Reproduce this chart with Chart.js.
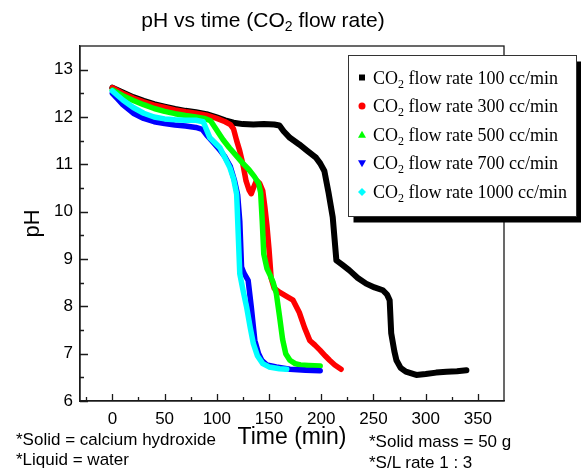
<!DOCTYPE html>
<html>
<head>
<meta charset="utf-8">
<script src="https://cdn.jsdelivr.net/npm/chart.js@4"></script>
<style>
  html, body { margin: 0; padding: 0; background: #fff; }
  #wrap { position: relative; width: 581px; height: 474px; }
  .note { position: absolute; font-family: "Liberation Sans", Arial, sans-serif; color: #000; }
  #title { left: 0; top: 8px; width: 526px; text-align: center; font-size: 21px; line-height: 24px; }
  #title sub { font-size: 14px; vertical-align: -4px; line-height: 0; }
  .foot { font-size: 17px; line-height: 20px; white-space: nowrap; }
</style>
</head>
<body>
<div id="wrap">
  <canvas id="phChart"></canvas>
  <div class="note" id="title">pH vs time (CO<sub>2</sub> flow rate)</div>
  <div class="note foot" style="left:16px; top:430px;">*Solid = calcium hydroxide<br>*Liquid = water</div>
  <div class="note foot" style="left:369px; top:431px; line-height:21px;">*Solid mass = 50 g<br>*S/L rate 1 : 3</div>
</div>
<script>
// ---- data ----
const flowRates = [100, 300, 500, 700, 1000];
const lineColors = ["#000000", "#ff0000", "#00ff00", "#0000ff", "#00ffff"];
const lineWidths = [6, 5.5, 5.5, 5.5, 5.5];
const markerStyles = ["rect", "circle", "triangle", "triangleDown", "diamond"];

const time100 = [0, 10, 20, 30, 40, 50, 60, 70, 80, 90, 100, 108, 116, 125, 135, 145, 155, 160, 164, 170, 179, 187, 195, 199, 203, 207, 211, 214.5, 220, 227, 235, 243, 251, 259, 263, 265.5, 267, 270, 272, 276, 281, 291, 300, 310, 320, 330, 339];
const ph100 = [12.62, 12.52, 12.42, 12.34, 12.27, 12.22, 12.17, 12.13, 12.1, 12.06, 11.99, 11.93, 11.88, 11.85, 11.84, 11.85, 11.84, 11.82, 11.7, 11.56, 11.42, 11.28, 11.14, 11.02, 10.86, 10.4, 9.88, 8.97, 8.88, 8.76, 8.6, 8.48, 8.4, 8.34, 8.25, 8.13, 7.43, 7.05, 6.86, 6.7, 6.62, 6.55, 6.57, 6.6, 6.62, 6.63, 6.65];

const time300 = [0, 10, 20, 30, 40, 50, 60, 70, 80, 90, 100, 108, 113, 116, 119, 122, 125, 128, 131, 133, 135, 138, 141, 144, 146, 148, 150, 152, 155, 160, 166, 173, 179, 184, 189, 194, 199, 204, 208, 213, 219];
const ph300 = [12.62, 12.5, 12.4, 12.32, 12.25, 12.2, 12.15, 12.11, 12.08, 12.04, 11.97, 11.9, 11.84, 11.75, 11.5, 11.28, 11.0, 10.65, 10.45, 10.38, 10.5, 10.66, 10.6, 10.44, 10.1, 9.7, 9.2, 8.6, 8.38, 8.3, 8.22, 8.13, 7.87, 7.55, 7.28, 7.18, 7.07, 6.95, 6.86, 6.76, 6.67];

const time500 = [0, 10, 20, 30, 40, 50, 60, 70, 80, 88, 94, 100, 106, 112, 118, 125, 131, 136, 140, 142, 143.5, 145, 148, 151, 154, 157, 160, 163, 166, 170, 175, 180, 188, 199];
const ph500 = [12.57, 12.45, 12.35, 12.26, 12.18, 12.12, 12.07, 12.03, 12.0, 11.97, 11.92, 11.72, 11.52, 11.35, 11.2, 11.02, 10.88, 10.74, 10.6, 10.4, 9.8, 9.1, 8.8, 8.66, 8.5, 8.27, 7.8, 7.3, 7.0, 6.86, 6.79, 6.76, 6.75, 6.74];

const time700 = [0, 5, 10, 20, 30, 40, 50, 60, 70, 80, 86, 91, 97, 103, 108, 113, 117, 120, 122, 123.7, 126, 130, 133, 136.4, 140, 143, 148, 157, 170, 185, 199];
const ph700 = [12.5, 12.38, 12.26, 12.08, 11.97, 11.9, 11.86, 11.83, 11.81, 11.78, 11.74, 11.6, 11.45, 11.3, 11.15, 10.95, 10.65, 10.35, 9.8, 8.83, 8.7, 8.55, 7.99, 7.28, 7.0, 6.86, 6.76, 6.72, 6.67, 6.65, 6.64];

const time1000 = [0, 10, 20, 30, 40, 50, 60, 70, 80, 87, 93.4, 103, 112.5, 116, 119, 120.5, 122, 125, 128.5, 132, 135, 139, 144, 150, 160, 167];
const ph1000 = [12.55, 12.36, 12.2, 12.08, 12.0, 11.96, 11.94, 11.93, 11.93, 11.9, 11.56, 11.35, 10.93, 10.7, 10.37, 9.53, 8.69, 8.35, 7.99, 7.55, 7.21, 6.95, 6.79, 6.72, 6.68, 6.67];

const xTicks = [0, 50, 100, 150, 200, 250, 300, 350];
const yTicks = [6, 7, 8, 9, 10, 11, 12, 13];

const seriesTimes = [time100, time300, time500, time700, time1000];
const seriesPh = [ph100, ph300, ph500, ph700, ph1000];

const SANS = '"Liberation Sans", Arial, sans-serif';
const SERIF = '"Liberation Serif", "Times New Roman", serif';
const AXIS_COLOR = "#1a1a1a";

// inward major/minor ticks plus the top/right frame
const frameTicks = {
  id: "frameTicks",
  afterDatasetsDraw(chart) {
    const { ctx, chartArea: a, scales: { x, y } } = chart;
    ctx.save();
    ctx.strokeStyle = AXIS_COLOR;
    ctx.lineWidth = 1.3;
    ctx.strokeRect(a.left, a.top, a.right - a.left, a.bottom - a.top);
    ctx.beginPath();
    xTicks.forEach((v) => {
      const px = Math.round(x.getPixelForValue(v)) + 0.5;
      ctx.moveTo(px, a.bottom); ctx.lineTo(px, a.bottom - 7);
      const mx = Math.round(x.getPixelForValue(v - 25)) + 0.5;
      ctx.moveTo(mx, a.bottom); ctx.lineTo(mx, a.bottom - 4);
    });
    const last = Math.round(x.getPixelForValue(xTicks[xTicks.length - 1] + 25)) + 0.5;
    if (last < a.right - 1) { ctx.moveTo(last, a.bottom); ctx.lineTo(last, a.bottom - 4); }
    yTicks.forEach((v) => {
      const py = Math.round(y.getPixelForValue(v)) + 0.5;
      ctx.moveTo(a.left, py); ctx.lineTo(a.left + 8, py);
      const my = Math.round(y.getPixelForValue(v + 0.5)) + 0.5;
      if (my > a.top + 1) { ctx.moveTo(a.left, my); ctx.lineTo(a.left + 4, my); }
    });
    ctx.stroke();
    ctx.restore();
  },
};

function drawMarker(ctx, style, cx, cy, color) {
  ctx.fillStyle = color;
  ctx.beginPath();
  if (style === "rect") {
    ctx.rect(cx - 3, cy - 3, 6, 6);
  } else if (style === "circle") {
    ctx.arc(cx, cy, 3.5, 0, Math.PI * 2);
  } else if (style === "triangle") {
    ctx.moveTo(cx, cy - 4); ctx.lineTo(cx + 4, cy + 3); ctx.lineTo(cx - 4, cy + 3);
  } else if (style === "triangleDown") {
    ctx.moveTo(cx - 4, cy - 3); ctx.lineTo(cx + 4, cy - 3); ctx.lineTo(cx, cy + 4);
  } else {
    ctx.moveTo(cx, cy - 4); ctx.lineTo(cx + 4, cy); ctx.lineTo(cx, cy + 4); ctx.lineTo(cx - 4, cy);
  }
  ctx.closePath();
  ctx.fill();
}

// boxed legend with drop shadow, subscripted CO2
const boxLegend = {
  id: "boxLegend",
  afterDraw(chart) {
    const ctx = chart.ctx;
    const bx = 348.5, by = 55.5, bw = 228, bh = 161;
    ctx.save();
    ctx.fillStyle = "#000";
    ctx.fillRect(bx + 5, by + 6, bw, bh);
    ctx.fillStyle = "#fff";
    ctx.fillRect(bx, by, bw, bh);
    ctx.strokeStyle = "#333";
    ctx.lineWidth = 1;
    ctx.strokeRect(bx, by, bw, bh);
    ctx.textBaseline = "alphabetic";
    flowRates.forEach((rate, i) => {
      const base = 83.5 + i * 28.6;
      drawMarker(ctx, markerStyles[i], 362, base - 6, lineColors[i]);
      ctx.fillStyle = "#000";
      let tx = 373;
      ctx.font = "18px " + SERIF;
      ctx.fillText("CO", tx, base);
      tx += ctx.measureText("CO").width;
      ctx.font = "12px " + SERIF;
      ctx.fillText("2", tx, base + 4);
      tx += ctx.measureText("2").width;
      ctx.font = "18px " + SERIF;
      ctx.fillText(" flow rate " + rate + " cc/min", tx, base);
    });
    ctx.restore();
  },
};

new Chart(document.getElementById("phChart"), {
  type: "scatter",
  data: {
    datasets: flowRates.map((rate, i) => ({
      label: "CO₂ flow rate " + rate + " cc/min",
      data: seriesTimes[i].map((t, k) => ({ x: t, y: seriesPh[i][k] })),
      showLine: true,
      borderColor: lineColors[i],
      backgroundColor: lineColors[i],
      borderWidth: lineWidths[i],
      borderJoinStyle: "round",
      borderCapStyle: "round",
      pointRadius: 0,
      tension: 0,
      order: flowRates.length - i,
    })),
  },
  options: {
    responsive: true,
    maintainAspectRatio: false,
    animation: false,
    layout: { padding: { top: 46, right: 77, left: 0, bottom: 0 } },
    plugins: { legend: { display: false }, tooltip: { enabled: false } },
    scales: {
      x: {
        type: "linear",
        min: -31,
        max: 375,
        afterBuildTicks: (s) => { s.ticks = xTicks.map((v) => ({ value: v })); },
        afterFit: (s) => { s.height = 73; },
        grid: { display: false, drawTicks: false },
        border: { color: AXIS_COLOR, width: 1.3 },
        ticks: { color: "#000", font: { family: SANS, size: 17 }, padding: 8, maxRotation: 0 },
        title: { display: true, text: "Time (min)", color: "#000", font: { family: SANS, size: 23 }, padding: { top: 0, bottom: 22.7 } },
      },
      y: {
        min: 6,
        max: 13.5,
        afterBuildTicks: (s) => { s.ticks = yTicks.map((v) => ({ value: v })); },
        afterFit: (s) => { s.width = 80; },
        grid: { display: false, drawTicks: false },
        border: { color: AXIS_COLOR, width: 1.3 },
        ticks: { color: "#000", font: { family: SANS, size: 17 }, padding: 7 },
        title: { display: true, text: "pH", color: "#000", font: { family: SANS, size: 22 }, padding: { top: 19.8, bottom: 0 } },
      },
    },
  },
  plugins: [frameTicks, boxLegend],
});
</script>
</body>
</html>
